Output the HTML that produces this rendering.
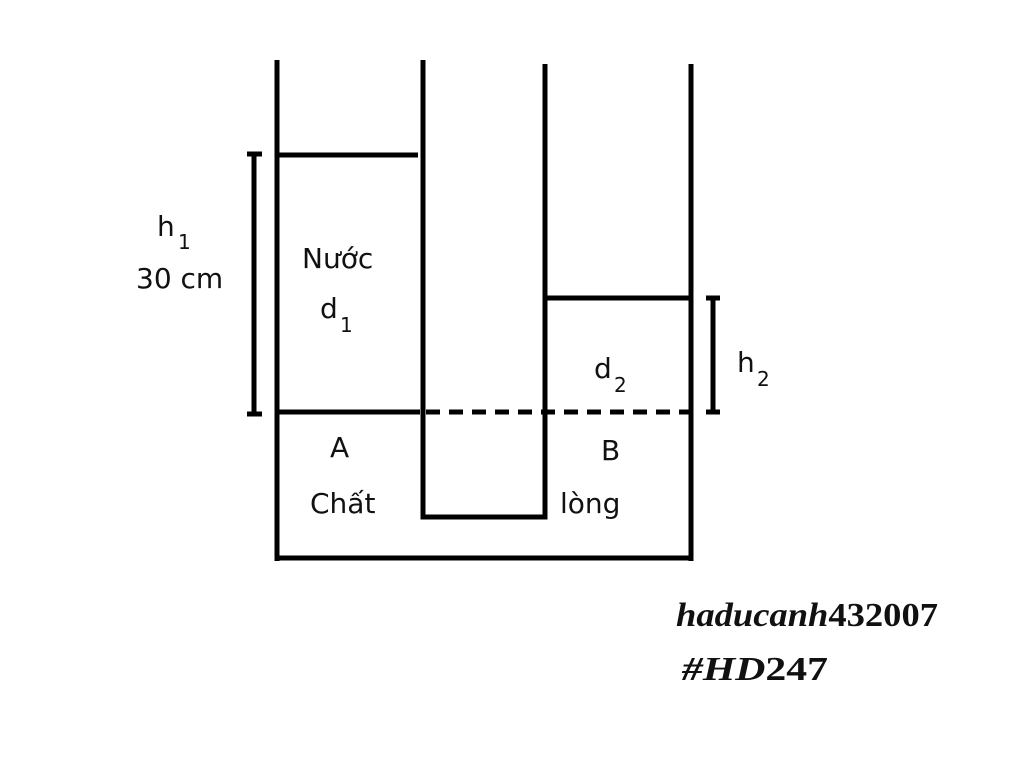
<!DOCTYPE html>
<html><head><meta charset="utf-8"><style>
html,body{margin:0;padding:0;background:#fff;}
svg{display:block}
.t{font-family:"DejaVu Sans","Liberation Sans",sans-serif;font-size:28px;fill:#111}
.s{font-family:"DejaVu Sans","Liberation Sans",sans-serif;font-size:20px;fill:#111}
.m{font-family:"Liberation Serif",serif;font-size:34px;fill:#111;font-weight:bold}
</style></head><body>
<svg width="1024" height="761" viewBox="0 0 1024 761">
<g stroke="#000" stroke-width="5" fill="none">
<line x1="277" y1="60" x2="277" y2="561"/>
<line x1="274.5" y1="558" x2="693.5" y2="558"/>
<line x1="691" y1="64" x2="691" y2="561"/>
<line x1="423" y1="60" x2="423" y2="519"/>
<line x1="420.5" y1="517" x2="547.5" y2="517"/>
<line x1="545" y1="64" x2="545" y2="519"/>
<line x1="277" y1="155" x2="418" y2="155"/>
<line x1="277" y1="412" x2="420" y2="412"/>
<line x1="426" y1="412" x2="691" y2="412" stroke-dasharray="14,9"/>
<line x1="545" y1="298" x2="691" y2="298"/>
<line x1="254" y1="153" x2="254" y2="415"/>
<line x1="247" y1="154" x2="262" y2="154"/>
<line x1="247" y1="414" x2="262" y2="414"/>
<line x1="713" y1="297" x2="713" y2="413"/>
<line x1="706" y1="298" x2="720" y2="298"/>
<line x1="706" y1="412" x2="720" y2="412"/>
</g>
<text class="t" x="157" y="236">h</text><text class="s" x="178" y="249">1</text>
<text class="t" x="136" y="288">30 cm</text>
<text class="t" x="302" y="268">Nước</text>
<text class="t" x="320" y="318">d</text><text class="s" x="340" y="332">1</text>
<text class="t" x="594" y="378">d</text><text class="s" x="614" y="392">2</text>
<text class="t" x="737" y="372">h</text><text class="s" x="757" y="386">2</text>
<text class="t" x="330" y="457">A</text>
<text class="t" x="601" y="460">B</text>
<text class="t" x="310" y="513">Chất</text>
<text class="t" x="560" y="513">lòng</text>
<text class="m" x="676" y="626" textLength="262" lengthAdjust="spacingAndGlyphs"><tspan font-style="italic">haducanh</tspan>432007</text>
<text class="m" x="682" y="680" textLength="146" lengthAdjust="spacingAndGlyphs"><tspan font-style="italic">#HD</tspan>247</text>
</svg>
</body></html>
